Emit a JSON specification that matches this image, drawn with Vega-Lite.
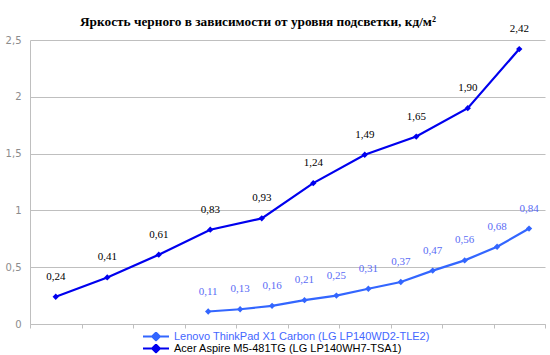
{
  "$schema": "https://vega.github.io/schema/vega-lite/v6.json",
  "autosize": {"type": "none"},
  "width": 515,
  "height": 284,
  "padding": {"left": 30, "top": 40, "right": 5, "bottom": 31},
  "background": "white",
  "title": {
    "text": "Яркость черного в зависимости от уровня подсветки, кд/м²",
    "font": "Liberation Serif",
    "fontSize": 13.3,
    "fontWeight": "bold",
    "color": "black",
    "anchor": "start",
    "frame": "group",
    "dx": 50,
    "offset": -5
  },
  "config": {
    "locale": {"number": {"decimal": ",", "thousands": " ", "grouping": [3], "currency": ["", ""]}},
    "view": {"stroke": null}
  },
  "data": {
    "values": [
      {"s": "Lenovo ThinkPad X1 Carbon (LG LP140WD2-TLE2)", "x": 3.46, "v": 0.11},
      {"s": "Lenovo ThinkPad X1 Carbon (LG LP140WD2-TLE2)", "x": 4.08, "v": 0.13},
      {"s": "Lenovo ThinkPad X1 Carbon (LG LP140WD2-TLE2)", "x": 4.70, "v": 0.16},
      {"s": "Lenovo ThinkPad X1 Carbon (LG LP140WD2-TLE2)", "x": 5.33, "v": 0.21},
      {"s": "Lenovo ThinkPad X1 Carbon (LG LP140WD2-TLE2)", "x": 5.95, "v": 0.25},
      {"s": "Lenovo ThinkPad X1 Carbon (LG LP140WD2-TLE2)", "x": 6.57, "v": 0.31},
      {"s": "Lenovo ThinkPad X1 Carbon (LG LP140WD2-TLE2)", "x": 7.20, "v": 0.37},
      {"s": "Lenovo ThinkPad X1 Carbon (LG LP140WD2-TLE2)", "x": 7.82, "v": 0.47},
      {"s": "Lenovo ThinkPad X1 Carbon (LG LP140WD2-TLE2)", "x": 8.44, "v": 0.56},
      {"s": "Lenovo ThinkPad X1 Carbon (LG LP140WD2-TLE2)", "x": 9.07, "v": 0.68},
      {"s": "Lenovo ThinkPad X1 Carbon (LG LP140WD2-TLE2)", "x": 9.69, "v": 0.84},
      {"s": "Acer Aspire M5-481TG (LG LP140WH7-TSA1)", "x": 0.5, "v": 0.24},
      {"s": "Acer Aspire M5-481TG (LG LP140WH7-TSA1)", "x": 1.5, "v": 0.41},
      {"s": "Acer Aspire M5-481TG (LG LP140WH7-TSA1)", "x": 2.5, "v": 0.61},
      {"s": "Acer Aspire M5-481TG (LG LP140WH7-TSA1)", "x": 3.5, "v": 0.83},
      {"s": "Acer Aspire M5-481TG (LG LP140WH7-TSA1)", "x": 4.5, "v": 0.93},
      {"s": "Acer Aspire M5-481TG (LG LP140WH7-TSA1)", "x": 5.5, "v": 1.24},
      {"s": "Acer Aspire M5-481TG (LG LP140WH7-TSA1)", "x": 6.5, "v": 1.49},
      {"s": "Acer Aspire M5-481TG (LG LP140WH7-TSA1)", "x": 7.5, "v": 1.65},
      {"s": "Acer Aspire M5-481TG (LG LP140WH7-TSA1)", "x": 8.5, "v": 1.90},
      {"s": "Acer Aspire M5-481TG (LG LP140WH7-TSA1)", "x": 9.5, "v": 2.42}
    ]
  },
  "encoding": {
    "x": {
      "field": "x", "type": "quantitative",
      "scale": {"domain": [0, 10], "nice": false, "zero": false},
      "axis": {
        "title": null, "labels": false, "grid": false,
        "values": [0, 1, 2, 3, 4, 5, 6, 7, 8, 9, 10],
        "domainColor": "#BFBFBF", "tickColor": "#BFBFBF", "tickSize": 4
      }
    },
    "y": {
      "field": "v", "type": "quantitative",
      "scale": {"domain": [0, 2.5], "nice": false},
      "axis": {
        "title": null, "values": [0, 0.5, 1, 1.5, 2, 2.5], "format": "~g",
        "gridColor": "#BFBFBF", "domainColor": "#BFBFBF", "ticks": false,
        "labelFont": "DejaVu Sans", "labelFontSize": 10, "labelColor": "#8C8C8C",
        "labelPadding": 9
      }
    }
  },
  "layer": [
    {
      "mark": {"type": "line", "strokeWidth": 2.2, "point": {"shape": "diamond", "filled": true, "size": 40}},
      "encoding": {
        "color": {
          "field": "s", "type": "nominal",
          "scale": {
            "domain": ["Lenovo ThinkPad X1 Carbon (LG LP140WD2-TLE2)", "Acer Aspire M5-481TG (LG LP140WH7-TSA1)"],
            "range": ["#3366FF", "#0000EE"]
          },
          "legend": {
            "title": null, "orient": "none", "legendX": 112, "legendY": 292,
            "padding": 0, "rowPadding": 0, "clipHeight": 9,
            "symbolType": "M-1,0H1M-0.3,0L0,-0.3L0.3,0L0,0.3Z",
            "symbolSize": 676, "symbolStrokeWidth": 2,
            "labelFont": "Liberation Sans", "labelFontSize": 11, "labelOffset": 4,
            "labelLimit": 400,
            "encode": {
              "symbols": {"update": {"fill": {"scale": "color", "field": "value"}, "stroke": {"scale": "color", "field": "value"}, "opacity": {"value": 1}}},
              "labels": {"update": {"fill": [{"test": "indexof(datum.value, 'Lenovo') == 0", "value": "#4466FF"}, {"value": "black"}]}}
            }
          }
        }
      }
    },
    {
      "mark": {"type": "text", "font": "Liberation Serif", "fontSize": 11, "dy": -20},
      "encoding": {
        "text": {"field": "v", "type": "quantitative", "format": ".2f"},
        "color": {"condition": {"test": "indexof(datum.s, 'Acer') == 0", "value": "black"}, "value": "#5A6CF5"}
      }
    }
  ]
}
